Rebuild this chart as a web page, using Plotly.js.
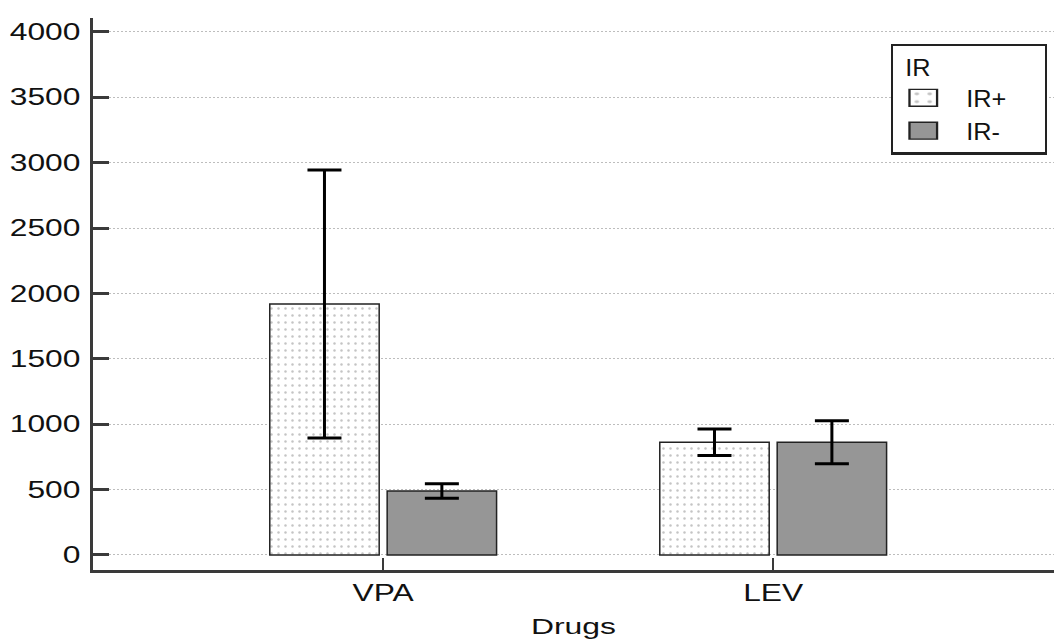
<!DOCTYPE html>
<html>
<head>
<meta charset="utf-8">
<script src="https://cdn.plot.ly/plotly-3.0.1.min.js"></script>
<style>
html,body{margin:0;padding:0;background:#fff;}
#chart{width:1054px;height:639px;}
</style>
</head>
<body>
<div id="chart"></div>
<script>
const categories = ["VPA", "LEV"];
const seriesNames = ["IR+", "IR-"];
const irPlusMean = [1920, 862];
const irPlusErr = [1025, 102];
const irMinusMean = [489, 862];
const irMinusErr = [55, 165];
const yTickVals = [0, 500, 1000, 1500, 2000, 2500, 3000, 3500, 4000];
const yTickText = ["0", "500", "1000", "1500", "2000", "2500", "3000", "3500", "4000"];

const FONT = "Liberation Sans, Arial, sans-serif";

const errStyle = {type: "data", symmetric: true, color: "#000", thickness: 3, width: 17, visible: true};

const traces = [
  {
    type: "bar", name: seriesNames[0], x: categories, y: irPlusMean,
    error_y: Object.assign({array: irPlusErr}, errStyle),
    marker: {
      color: "#ffffff",
      line: {color: "#222", width: 1.5},
      pattern: {shape: ".", size: 7, solidity: 0.1, fgcolor: "#c4c4c4", bgcolor: "#ffffff", fillmode: "replace"}
    }
  },
  {
    type: "bar", name: seriesNames[1], x: categories, y: irMinusMean,
    error_y: Object.assign({array: irMinusErr}, errStyle),
    marker: {color: "#969696", line: {color: "#222", width: 1.5}}
  }
];

const layout = {
  width: 1054, height: 639,
  margin: {l: 93, r: 0, t: 18, b: 69, pad: 0},
  paper_bgcolor: "#fff", plot_bgcolor: "#fff",
  font: {family: FONT, size: 23, color: "#111"},
  barmode: "group", bargap: 0.398, bargroupgap: 0.068,
  showlegend: true,
  legend: {
    x: 0.993, xanchor: "right", y: 0.953, yanchor: "top",
    bgcolor: "#fff", bordercolor: "#222", borderwidth: 2.5,
    title: {text: "IR", font: {family: FONT, size: 23, color: "#111"}},
    font: {family: FONT, size: 23, color: "#111"},
    tracegroupgap: 0, itemwidth: 50
  },
  xaxis: {
    type: "category", range: [-0.744, 1.72],
    showline: true, linecolor: "#3a3a3a", linewidth: 3,
    ticks: "inside", ticklen: 12, tickwidth: 2, tickcolor: "#3a3a3a",
    showgrid: false, zeroline: false,
    tickfont: {family: FONT, size: 23, color: "#111"},
    title: {text: "Drugs", font: {family: FONT, size: 22, color: "#111"}}
  },
  yaxis: {
    range: [-115, 4107],
    tickvals: yTickVals, ticktext: yTickText,
    showline: true, linecolor: "#3a3a3a", linewidth: 3,
    ticks: "inside", ticklen: 16, tickwidth: 3, tickcolor: "#3a3a3a",
    showgrid: true, gridcolor: "#bdbdbd", gridwidth: 1, griddash: "2px,2px",
    zeroline: false,
    tickfont: {family: FONT, size: 23, color: "#111"},
    ticklabelstandoff: 5
  }
};

function stretch(t, f) {
  const w = t.getComputedTextLength();
  if (w > 0) {
    t.setAttribute("textLength", (w * f).toFixed(1));
    t.setAttribute("lengthAdjust", "spacingAndGlyphs");
  }
}

function adjust(gd) {
  gd.querySelectorAll(".xtick text, .ytick text").forEach(function (t) { stretch(t, 1.38); });
  gd.querySelectorAll(".g-xtitle text").forEach(function (t) { stretch(t, 1.45); });
  gd.querySelectorAll(".legendpoints path").forEach(function (p) {
    const tr = p.getAttribute("transform") || "";
    p.setAttribute("transform", tr + " scale(2.3,1.4)");
    p.style.strokeWidth = "1px";
  });
  // widen legend box to the left, keeping its right edge
  const leg = gd.querySelector(".legend");
  const bg = leg ? leg.querySelector("rect.bg") : null;
  if (leg && bg) {
    const targetW = 154;
    const curW = parseFloat(bg.getAttribute("width"));
    const dx = targetW - curW;
    const tr = leg.getAttribute("transform") || "";
    const m = /translate\(([-\d.]+)[ ,]+([-\d.]+)\)/.exec(tr);
    if (m && dx > 0) {
      leg.setAttribute("transform", "translate(" + (parseFloat(m[1]) - dx) + "," + m[2] + ")");
      bg.setAttribute("width", targetW);
      leg.querySelectorAll("[clip-path]").forEach(function (el) { el.removeAttribute("clip-path"); });
      leg.querySelectorAll(".legendtext").forEach(function (t) {
        t.setAttribute("x", parseFloat(t.getAttribute("x") || 0) + 13);
        stretch(t, 1.1);
      });
      leg.querySelectorAll(".legendtitletext").forEach(function (t) {
        t.setAttribute("x", parseFloat(t.getAttribute("x") || 0) + 10);
        stretch(t, 1.1);
      });
    }
  }
}

Plotly.newPlot("chart", traces, layout, {displayModeBar: false, staticPlot: true}).then(adjust);
</script>
</body>
</html>
